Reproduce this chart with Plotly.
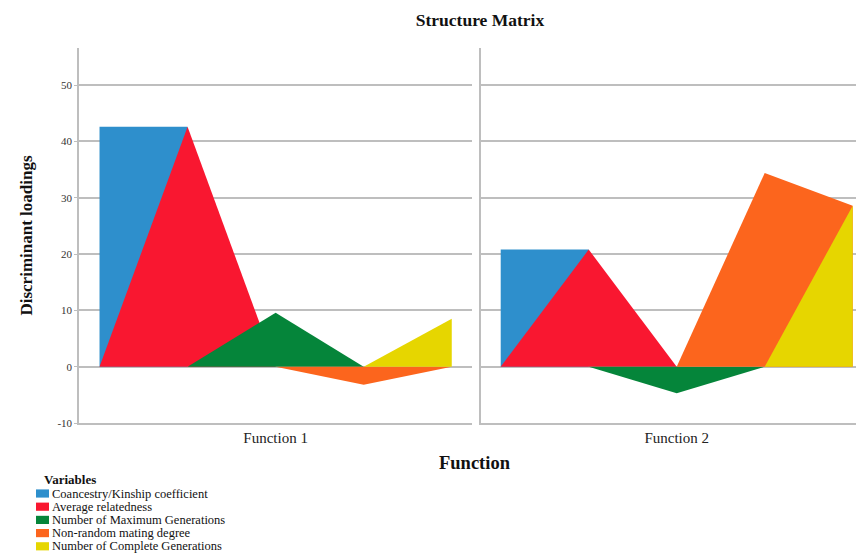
import plotly.graph_objects as go

# ---- data ----
x_pos = [0, 1, 2, 3, 4]
variables = [
    "Coancestry/Kinship coefficient",
    "Average relatedness",
    "Number of Maximum Generations",
    "Non-random mating degree",
    "Number of Complete Generations",
]
colors = ["#2E8FCC", "#F91730", "#05853A", "#FC651D", "#E6D600"]
functions = ["Function 1", "Function 2"]

fn1_coancestry = [42.6, 42.6, None, None, None]
fn1_relatedness = [0, 42.6, 0, None, None]
fn1_max_gen = [None, 0, 9.6, 0, None]
fn1_nonrandom = [None, None, 0, -3.2, 0]
fn1_complete_gen = [None, None, None, 0, 8.5]

fn2_coancestry = [20.8, 20.8, None, None, None]
fn2_relatedness = [0, 20.8, 0, None, None]
fn2_max_gen = [None, 0, -4.7, 0, None]
fn2_nonrandom = [None, None, 0, 34.4, 28.6]
fn2_complete_gen = [None, None, None, 0, 28.6]

y_ticks = [-10, 0, 10, 20, 30, 40, 50]
y_tick_labels = ["-10", "0", "10", "20", "30", "40", "50"]

# ---- figure ----
W, H = 864, 553
OFF = 8  # page body margin offset
FONT = "Liberation Serif"
GRID = "#BEBEBE"

fig = go.Figure()

panels = [
    ("x", "y", [fn1_coancestry, fn1_relatedness, fn1_max_gen, fn1_nonrandom, fn1_complete_gen]),
    ("x2", "y2", [fn2_coancestry, fn2_relatedness, fn2_max_gen, fn2_nonrandom, fn2_complete_gen]),
]
for xa, ya, series in panels:
    for name, col, vals in zip(variables, colors, series):
        xs = [x for x, v in zip(x_pos, vals) if v is not None]
        ys = [v for v in vals if v is not None]
        fig.add_trace(go.Scatter(
            x=xs, y=ys, name=name, mode="none", fill="tozeroy",
            fillcolor=col, xaxis=xa, yaxis=ya, showlegend=False,
        ))

# legend drawn as a small horizontal bar chart
fig.add_trace(go.Bar(
    y=list(range(len(variables))), x=[1] * len(variables), orientation="h",
    marker=dict(color=colors, line=dict(width=0)), width=0.62,
    text=variables, textposition="outside", constraintext="none",
    cliponaxis=False, textfont=dict(family=FONT, size=12.5, color="#111"),
    xaxis="x3", yaxis="y3", showlegend=False, hoverinfo="skip",
))


def px_x(p):
    return (p - OFF) / W


def px_y(p):
    return 1 - (p - OFF) / H


y_dom = [px_y(423), px_y(48)]
y_range = [-10, 56.6]

common_y = dict(
    range=y_range, domain=y_dom, tickvals=y_ticks, ticktext=y_tick_labels,
    showgrid=True, gridcolor=GRID, gridwidth=1.5, zeroline=False,
    showline=True, linecolor=GRID, linewidth=1.5,
)
common_x = dict(
    tickvals=[2], showgrid=False, zeroline=False, showline=True,
    linecolor=GRID, linewidth=1.5, ticks="",
    tickfont=dict(family=FONT, size=15, color="#222"),
)

row0, row_step = 493.5, 13.2
leg_top = row0 - row_step / 2
leg_bottom = H + OFF - 8
right_edge = W + OFF
fig.update_layout(
    width=W, height=H, template="none",
    margin=dict(l=0, r=0, t=0, b=0),
    paper_bgcolor="white", plot_bgcolor="white",
    showlegend=False,
    title=dict(text="Structure Matrix", x=px_x(480), y=px_y(20),
               xanchor="center", yanchor="middle",
               font=dict(family=FONT, size=17.5, weight="bold", color="#111")),
    xaxis=dict(domain=[px_x(79), px_x(472)], range=[-0.233, 4.23],
               ticktext=[functions[0]], anchor="y", **common_x),
    xaxis2=dict(domain=[px_x(481), 1.0],
                range=[-0.224, 4 + (right_edge - 852.7) / 88.0],
                ticktext=[functions[1]], anchor="y2", **common_x),
    yaxis=dict(anchor="x", ticks="outside", ticklen=3, tickcolor=GRID,
               tickfont=dict(family=FONT, size=11, color="#333"),
               title=dict(text="Discriminant loadings", standoff=20,
                          font=dict(family=FONT, size=17, weight="bold", color="#111")),
               **common_y),
    yaxis2=dict(anchor="x2", showticklabels=False, ticks="", **common_y),
    xaxis3=dict(domain=[px_x(36), px_x(320)], range=[0, (320 - 36) / 13],
                visible=False, anchor="y3", fixedrange=True),
    yaxis3=dict(domain=[px_y(leg_bottom), px_y(leg_top)],
                range=[-0.5 + (leg_bottom - leg_top) / row_step, -0.5],
                visible=False, anchor="x3", fixedrange=True),
    annotations=[
        dict(text="Function", x=px_x(475), y=px_y(463), xref="paper", yref="paper",
             xanchor="center", yanchor="middle", showarrow=False,
             font=dict(family=FONT, size=18.5, weight="bold", color="#111")),
        dict(text="Variables", x=px_x(42), y=px_y(479), xref="paper", yref="paper",
             xanchor="left", yanchor="middle", showarrow=False,
             font=dict(family=FONT, size=13, weight="bold", color="#111")),
    ],
)

fig.write_html("out.html")
